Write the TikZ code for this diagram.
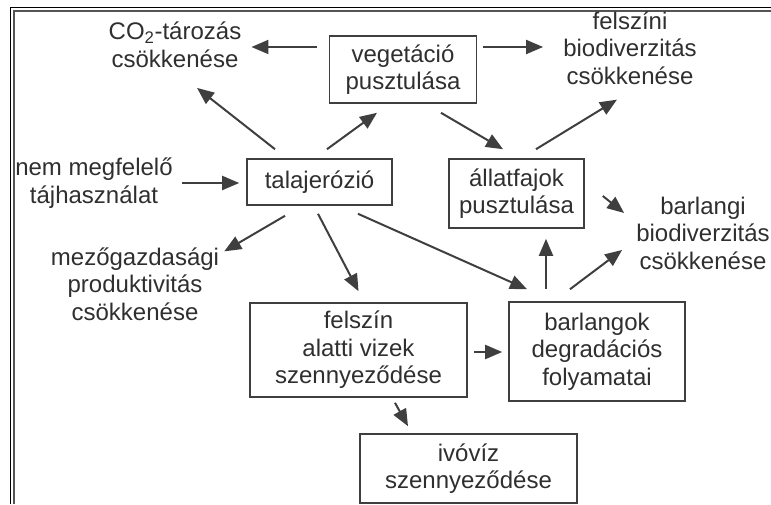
\documentclass[tikz,border=0pt]{standalone}
\usepackage{fontspec}
\setmainfont{Liberation Sans}
\usetikzlibrary{arrows.meta}
\definecolor{textcol}{HTML}{2F2F2F}
\definecolor{linecol}{HTML}{3F3F3F}
\definecolor{framecol}{HTML}{555555}

\begin{document}
\begin{tikzpicture}[x=1pt,y=1pt,
	every node/.style={font=\fontsize{24}{27.5}\selectfont,text=textcol,align=center,inner sep=0pt},
	box/.style={draw=linecol,line width=1.6pt},
	arr/.style={draw=linecol,line width=2pt,-{Triangle[length=17pt,width=14pt]}}]
\useasboundingbox (0,0) rectangle (771,504);
\draw[black,line width=1.5pt] (10.5,0) -- (10.5,496.5) -- (771,496.5);
\draw[framecol,line width=2.2pt] (14,0) -- (14,493) -- (771,493);

\node[box,minimum width=147pt,minimum height=67pt] (veg) at (403,434.5) {vegetáció\\pusztulása};
\node[box,minimum width=145pt,minimum height=46pt] (talaj) at (319.5,322) {talajerózió};
\node[box,minimum width=135pt,minimum height=69pt] (allat) at (516.5,310.5) {állatfajok\\pusztulása};
\node[box,minimum width=217pt,minimum height=94pt] (felszin) at (358.5,154) {felszín\\alatti vizek\\szennyeződése};
\node[box,minimum width=176pt,minimum height=99pt] (barlangok) at (597,152.5) {barlangok\\degradációs\\folyamatai};
\node[box,minimum width=217pt,minimum height=69pt] (ivoviz) at (468.5,35.5) {ivóvíz\\szennyeződése};
\node (co2) at (175,459) {CO\textsubscript{2}-tározás\\csökkenése};
\node (felszini) at (630,456) {felszíni\\biodiverzitás\\csökkenése};
\node (nem) at (94,321) {nem megfelelő\\tájhasználat};
\node (mezo) at (135,220) {mezőgazdasági\\produktivitás\\csökkenése};
\node (barlangi) at (703,271) {barlangi\\biodiverzitás\\csökkenése};

\draw[arr] ([xshift=-12pt,yshift=22.5pt]veg.west) -- ([xshift=10pt,yshift=-2pt]co2.east);
\draw[arr] ([xshift=-44.5pt,yshift=9pt]talaj.north) -- ([xshift=22pt,yshift=-20pt]co2.south);
\draw[arr] ([xshift=7.5pt,yshift=9pt]talaj.north) -- ([xshift=-26pt,yshift=-9pt]veg.south);
\draw[arr] ([xshift=5.5pt,yshift=22.5pt]veg.east) -- ([xshift=-20pt,yshift=1pt]felszini.west);
\draw[arr] ([xshift=38pt,yshift=-9pt]veg.south) -- ([xshift=-13.5pt,yshift=9pt]allat.north);
\draw[arr] ([xshift=9pt]nem.east) -- ([xshift=-7pt,yshift=-1pt]talaj.west);
\draw[arr] ([xshift=19.5pt,yshift=9pt]allat.north) -- ([xshift=-13pt,yshift=-15pt]felszini.south);
\draw[arr] ([xshift=18pt,yshift=-2.5pt]allat.east) -- ([xshift=-12pt,yshift=20pt]barlangi.west);
\draw[arr] ([xshift=-34.5pt,yshift=-10pt]talaj.south) -- ([xshift=5pt,yshift=-4pt]mezo.north east);
\draw[arr] ([xshift=-1.5pt,yshift=-8pt]talaj.south) -- ([yshift=11pt]felszin.north);
\draw[arr] ([xshift=38.5pt,yshift=-8pt]talaj.south) -- ([xshift=-70pt,yshift=12pt]barlangok.north);
\draw[arr] ([xshift=6pt,yshift=-2pt]felszin.east) -- ([xshift=-6pt,yshift=-0.5pt]barlangok.west);
\draw[arr] ([xshift=-51pt,yshift=12pt]barlangok.north) -- ([xshift=29.5pt,yshift=-10pt]allat.south);
\draw[arr] ([xshift=-27pt,yshift=12pt]barlangok.north) -- ([xshift=-14pt,yshift=-17pt]barlangi.west);
\draw[arr] ([xshift=36.5pt,yshift=-5pt]felszin.south) -- ([xshift=-60.5pt,yshift=7pt]ivoviz.north);
\end{tikzpicture}
\end{document}
